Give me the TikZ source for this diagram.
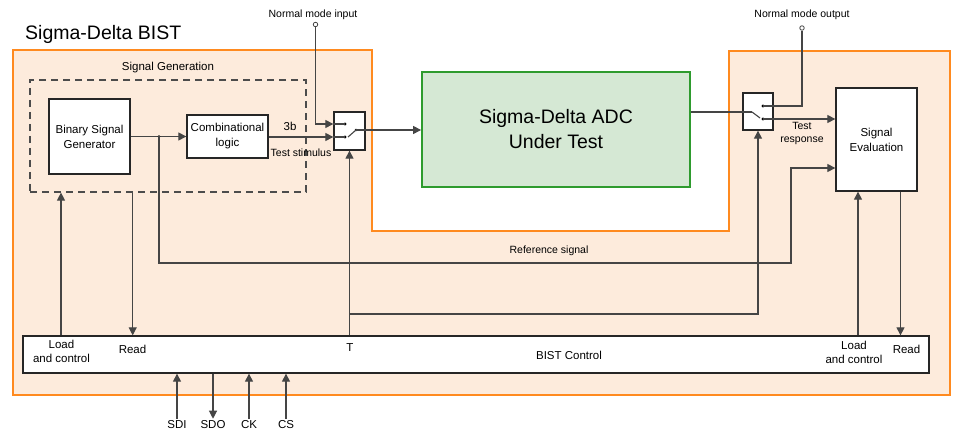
\documentclass[tikz,border=0pt]{standalone}
\usepackage{fontspec}
\setmainfont{Liberation Sans}
\usetikzlibrary{arrows.meta,calc}
\definecolor{bistfill}{HTML}{FDEBDC}
\definecolor{bistline}{HTML}{FF8A1F}
\definecolor{adcfill}{HTML}{D5E8D4}
\definecolor{adcline}{HTML}{2E9B2E}
\definecolor{wire}{HTML}{454545}
\begin{document}
\begin{tikzpicture}[x=1pt,y=-1pt,
  box/.style={draw=black!85, line width=1.3pt, fill=white, inner sep=0pt, align=center,
    font=\fontsize{11.5}{15}\selectfont},
  conn/.style={draw=wire, line width=1.1pt},
  arr/.style={conn, -{Triangle[length=8pt,width=8pt]}},
  lbl/.style={font=\fontsize{11.5}{14}\selectfont, align=center, inner sep=0pt},
  small/.style={font=\fontsize{10.5}{13}\selectfont, align=center, inner sep=0pt},
  dot/.style={circle, fill=black, inner sep=0pt, minimum size=3.2pt},
  port/.style={circle, draw=wire, fill=white, line width=0.8pt, inner sep=0pt, minimum size=4.5pt},
]
\useasboundingbox (0,0) rectangle (955,430);

% BIST region
\draw[bistline, fill=bistfill, line width=1.8pt]
  (13,50) -- (372,50) -- (372,231) -- (729,231) -- (729,51) -- (950,51) -- (950,395) -- (13,395) -- cycle;
\node[anchor=west, inner sep=0pt, font=\fontsize{19.5}{22}\selectfont] (title) at (25,34) {Sigma-Delta BIST};

% Signal generation block
\node[draw=black!70, dash pattern=on 7pt off 5pt, line width=1.2pt, minimum width=276pt, minimum height=112pt, inner sep=0pt] (sg) at (168,136) {};
\node[lbl] (sglbl) at (168,68) {Signal Generation};
\node[box, minimum width=81pt, minimum height=75pt] (bsg) at (89.5,136.5) {Binary Signal\\Generator};
\node[box, minimum width=81pt, minimum height=43pt] (comb) at (227.5,136.5) {Combinational\\logic};

% ADC
\node[draw=adcline, fill=adcfill, line width=1.8pt, minimum width=268pt, minimum height=115pt, inner sep=0pt,
  align=center, font=\fontsize{19.5}{25}\selectfont] (adc) at (556,129.5) {Sigma-Delta ADC\\Under Test};

% Switches
\node[box, minimum width=31pt, minimum height=38pt] (sw1) at (349.5,131) {};
\node[box, minimum width=30pt, minimum height=37pt] (sw2) at (758,111.5) {};

% Signal evaluation and BIST control
\node[box, minimum width=81pt, minimum height=103pt] (se) at (876.5,139.5) {Signal\\Evaluation};
\node[box, minimum width=906pt, minimum height=37pt] (bist) at (476,354.5) {};
\node[lbl] (bistlbl) at (569,355) {BIST Control};

% ports
\node[port] (nmi) at (315.5,24.5) {};
\node[small] (nmilbl) at (313,15) {Normal mode input};
\node[port] (nmo) at (802,28) {};
\node[small] (nmolbl) at (802,15) {Normal mode output};

% switch 1 internals
\node[dot] (s1u) at ($(sw1.center)+(-4.5,-7)$) {};
\node[dot] (s1l) at ($(sw1.center)+(-4.5,6)$) {};
\node[dot, minimum size=2.8pt] (s1p) at ($(sw1.center)+(6.5,-1)$) {};
\draw[conn] (sw1.west |- s1u) -- (s1u.center);
\draw[conn] (sw1.west |- s1l) -- (s1l.center);
\draw[conn] ($(s1l.center)+(3,0)$) -- (s1p.center);
\draw[arr] (nmi) |- (sw1.west |- s1u);
\draw[arr] (comb.east |- s1l) -- (sw1.west |- s1l);
\draw[arr] (s1p.center) -- (s1p -| adc.west);
\node[lbl] (b3) at (290,126) {3b};
\node[small] (tst) at (301,152.5) {Test stimulus};

% switch 2 internals
\coordinate (s2p) at ($(sw2.center)+(-6,0.5)$);
\node[dot] (s2u) at ($(sw2.center)+(5,-5.5)$) {};
\node[dot] (s2l) at ($(sw2.center)+(5,7.5)$) {};
\draw[conn] (adc.east |- s2p) -- (s2p);
\draw[conn] (s2p) -- ($(s2l.center)+(-3,-1)$);
\draw[conn] (s2u.center) -| (nmo);
\draw[arr] (s2l.center) -- (s2l -| se.west);
\node[small] (tresp) at (802,133) {Test\\response};

% generator wiring
\draw[arr] (bsg.east) -- (comb.west);
\node[dot, minimum size=2.8pt] (j) at (159,136.5) {};
\coordinate (rc) at (791,263);
\draw[arr] (j.center) |- (rc) |- ($(se.west)+(0,28.5)$);
\node[small] (reflbl) at (549,251) {Reference signal};

% T line
\coordinate (tb) at (sw1.south |- 0,314);
\draw[arr] (sw1.south |- bist.north) -- (sw1.south);
\draw[arr] (tb) -| (sw2.south);
\node[lbl] (tlbl) at (350,348) {T};

% BIST control labels and lines
\node[lbl] (lc1) at (61.5,351.5) {Load\\and control};
\node[lbl] (rd1) at (132.5,349) {Read};
\node[lbl] (lc2) at (854,352) {Load\\and control};
\node[lbl] (rd2) at (906.5,349.5) {Read};
\draw[arr] (61,0 |- bist.north) -- (61,0 |- sg.south);
\draw[arr] (132.7,0 |- sg.south) -- (132.7,0 |- bist.north);
\draw[arr] (858,0 |- bist.north) -- (858,0 |- se.south);
\draw[arr] (900.5,0 |- se.south) -- (900.5,0 |- bist.north);

% bottom pins
\node[lbl] (sdi) at (177,425) {SDI};
\node[lbl] (sdo) at (213,425) {SDO};
\node[lbl] (ck) at (249,425) {CK};
\node[lbl] (cs) at (286,425) {CS};
\draw[arr] ($(sdi.north)+(0,-2)$) -- (sdi |- bist.south);
\draw[arr] (sdo |- bist.south) -- ($(sdo.north)+(0,-2)$);
\draw[arr] ($(ck.north)+(0,-2)$) -- (ck |- bist.south);
\draw[arr] ($(cs.north)+(0,-2)$) -- (cs |- bist.south);
\end{tikzpicture}
\end{document}
